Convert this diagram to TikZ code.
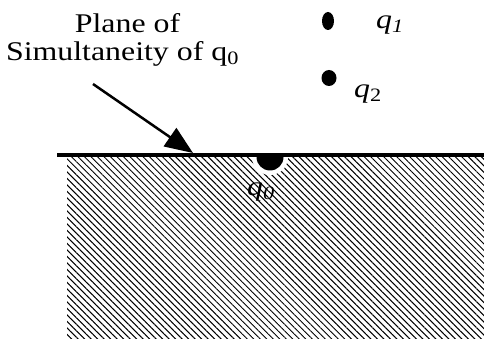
\documentclass[tikz,border=0pt]{standalone}
\usepackage{fontspec}
\setmainfont[FakeStretch=1.18]{Liberation Serif}
\usetikzlibrary{arrows.meta,patterns.meta,shapes.geometric}

\begin{document}
\begin{tikzpicture}[x=1pt,y=-1pt,
    lbl/.style={font=\fontsize{27}{28}\selectfont, inner sep=0pt},
    chargedot/.style={fill=black, draw=none, inner sep=0pt}]
    \useasboundingbox (0,0) rectangle (484,339);
    % region below the plane
    \fill[pattern={Lines[angle=-45,distance=4.6pt,line width=1pt]}] (67,158) rectangle (484,339);
    \node[circle, fill=white, minimum size=36pt, inner sep=0pt] (q0gap) at (270,157) {};
    \node[chargedot, circle, minimum size=27pt] (q0dot) at (270,157) {};
    \fill[white] (250,135) rectangle (290,155);
    \draw[line width=3.5pt] (57,155) -- (484,155);
    % charges
    \node[chargedot, ellipse, minimum width=12pt, minimum height=18pt] (q1dot) at (328,21) {};
    \node[chargedot, ellipse, minimum width=15pt, minimum height=16pt] (q2dot) at (329,78) {};
    \node[lbl, anchor=base west] (q1) at (376,29) {\textit{q}\textsubscript{\textit{1}}};
    \node[lbl, anchor=base west] (q2) at (354,98) {\textit{q}\textsubscript{2}};
    \node[lbl, anchor=base west] (q0) at (247,196) {\textit{q}\textsubscript{\textit{0}}};
    % label and arrow
    \node[lbl, anchor=base] (plane1) at (127.5,33) {Plane of};
    \node[lbl, anchor=base] (plane2) at (122.5,61) {Simultaneity of q\textsubscript{0}};
    \coordinate (tail) at (93,84);
    \coordinate (tip) at (193,153);
    \draw[line width=2.5pt, -{Triangle[length=28pt,width=22pt]}] (tail) -- (tip);
\end{tikzpicture}
\end{document}
